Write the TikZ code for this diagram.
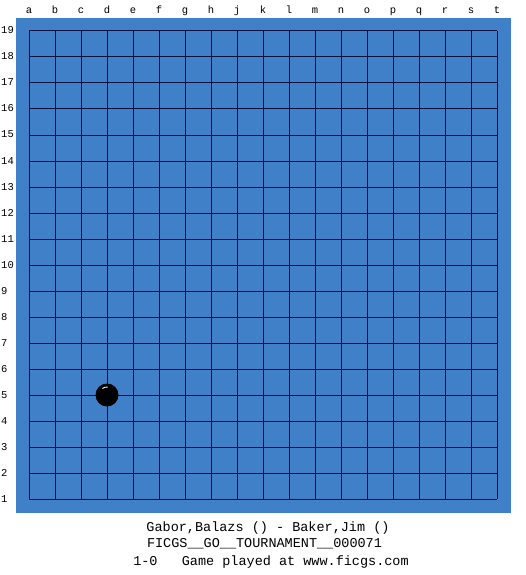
\documentclass[tikz,border=0pt]{standalone}
\usepackage{fontspec}
\setmainfont{Liberation Mono}
\usepackage{tikz}
\usetikzlibrary{positioning}
\usepackage{xcolor}
\definecolor{board}{RGB}{64,128,200}
\definecolor{gridline}{RGB}{8,16,64}

\begin{document}
\begin{tikzpicture}[x=1pt,y=-1pt]
\useasboundingbox (0,0) rectangle (525,575);
\fill[board] (16,18) rectangle (511,513);
% grid
\foreach \i in {0,...,18}{
\draw[gridline,line width=1pt] (29+26*\i,31) -- (29+26*\i,499);
\draw[gridline,line width=1pt] (29,31+26*\i) -- (497,31+26*\i);
}
% coordinates
\foreach \l [count=\i from 0] in {a,b,c,d,e,f,g,h,j,k,l,m,n,o,p,q,r,s,t}
\node[font=\fontsize{10.5}{12}\selectfont,anchor=base,inner sep=0] (col\l) at (29+26*\i,14) {\l};
\foreach \r in {1,...,19}
\node[font=\fontsize{10.5}{12}\selectfont,anchor=base west,inner sep=0] (row\r) at (1,499-26*\r+26+3) {\r};
% stone on d5
\node[circle,fill=black,minimum size=23pt,inner sep=0] (stone) at (107,395) {};
\draw[white,line width=0.9pt] (stone.center) ++(235:8) arc (235:275:8);
% game info
\node[font=\fontsize{13.5}{16}\selectfont,anchor=base,inner sep=0] (players) at (268,531) {Gabor,Balazs () - Baker,Jim ()};
\node[font=\fontsize{13.5}{16}\selectfont,anchor=base,inner sep=0] (event) at (264.5,547) {FICGS\_\_GO\_\_TOURNAMENT\_\_000071};
\node[font=\fontsize{13.5}{16}\selectfont,anchor=base,inner sep=0] (result) at (271,565) {1-0\ \ \ Game played at www.ficgs.com};
\end{tikzpicture}
\end{document}
